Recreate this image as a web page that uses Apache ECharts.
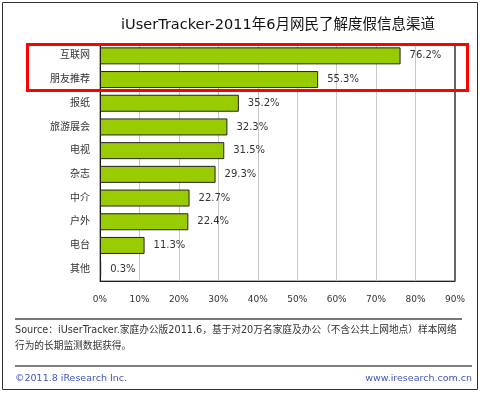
<!DOCTYPE html>
<html>
<head>
<meta charset="utf-8">
<script src="https://cdn.jsdelivr.net/npm/echarts@6/dist/echarts.min.js"></script>
<style>
html,body{margin:0;padding:0;background:#fff;}
#chart{width:480px;height:394px;}
</style>
</head>
<body>
<div id="chart"></div>
<script>
var categories = ['互联网','朋友推荐','报纸','旅游展会','电视','杂志','中介','户外','电台','其他'];
var values = [76.2, 55.3, 35.2, 32.3, 31.5, 29.3, 22.7, 22.4, 11.3, 0.3];
var tickLabels = ['0%','10%','20%','30%','40%','50%','60%','70%','80%','90%'];
var titleText = 'iUserTracker-2011年6月网民了解度假信息渠道';
var sourceLine1 = 'Source：iUserTracker.家庭办公版2011.6，基于对20万名家庭及办公（不含公共上网地点）样本网络';
var sourceLine2 = '行为的长期监测数据获得。';
var footerLeft = '©2011.8 iResearch Inc.';
var footerRight = 'www.iresearch.com.cn';

var FF = '"DejaVu Sans","Noto Sans CJK SC",sans-serif';
var chart = echarts.init(document.getElementById('chart'), null, {renderer:'canvas'});
chart.setOption({
  animation:false,
  backgroundColor:'#fff',
  title:{
    text:titleText, left:273, top:13, textAlign:'center',
    textStyle:{fontFamily:FF, fontSize:14.5, fontWeight:'normal', color:'#111'}
  },
  grid:{left:100, right:25, top:44, bottom:113, show:true, borderColor:'#666', borderWidth:1},
  xAxis:{
    type:'value', min:0, max:90, interval:10,
    axisLine:{show:true, lineStyle:{color:'#222', width:1}},
    axisTick:{show:false},
    splitLine:{show:true, lineStyle:{color:'#c8c8c8'}},
    axisLabel:{margin:14, color:'#333', fontSize:9, fontFamily:FF,
      formatter:function(v){return tickLabels[Math.round(v/10)];}}
  },
  yAxis:{
    type:'category', data:categories, inverse:true,
    axisLine:{show:true, lineStyle:{color:'#111', width:1}},
    axisTick:{show:false},
    axisLabel:{margin:10, color:'#333', fontSize:10, fontFamily:FF}
  },
  series:[{
    type:'bar', data:values, barWidth:17,
    itemStyle:{color:'#99cc00', borderColor:'#222', borderWidth:1},
    label:{show:true, position:'right', distance:9, color:'#333', fontSize:10, fontFamily:FF,
      formatter:function(p){return p.value.toFixed(1)+'%';}}
  }],
  graphic:[
    {type:'rect', shape:{x:2.5,y:2.5,width:475,height:387}, style:{fill:null, stroke:'#333', lineWidth:1}, silent:true, z:-1},
    {type:'line', shape:{x1:455,y1:44,x2:455,y2:281}, style:{stroke:'#666', lineWidth:2}, z:50},
    {type:'rect', shape:{x:27.5,y:44.5,width:440,height:46}, style:{fill:null, stroke:'#ff0000', lineWidth:3}, z:100},
    {type:'line', shape:{x1:15,y1:319,x2:462,y2:319}, style:{stroke:'#777', lineWidth:2}},
    {type:'text', left:15, top:326, style:{text:sourceLine1, fontFamily:FF, fontSize:9.7, fill:'#333'}},
    {type:'text', left:15, top:342, style:{text:sourceLine2, fontFamily:FF, fontSize:9.7, fill:'#333'}},
    {type:'line', shape:{x1:15,y1:366,x2:472,y2:366}, style:{stroke:'#555', lineWidth:1.5}},
    {type:'text', left:15, top:374, style:{text:footerLeft, fontFamily:FF, fontSize:9.5, fill:'#4455bb'}},
    {type:'text', right:8, top:374, style:{text:footerRight, fontFamily:FF, fontSize:9.5, fill:'#4455bb'}}
  ]
});
</script>
</body>
</html>
